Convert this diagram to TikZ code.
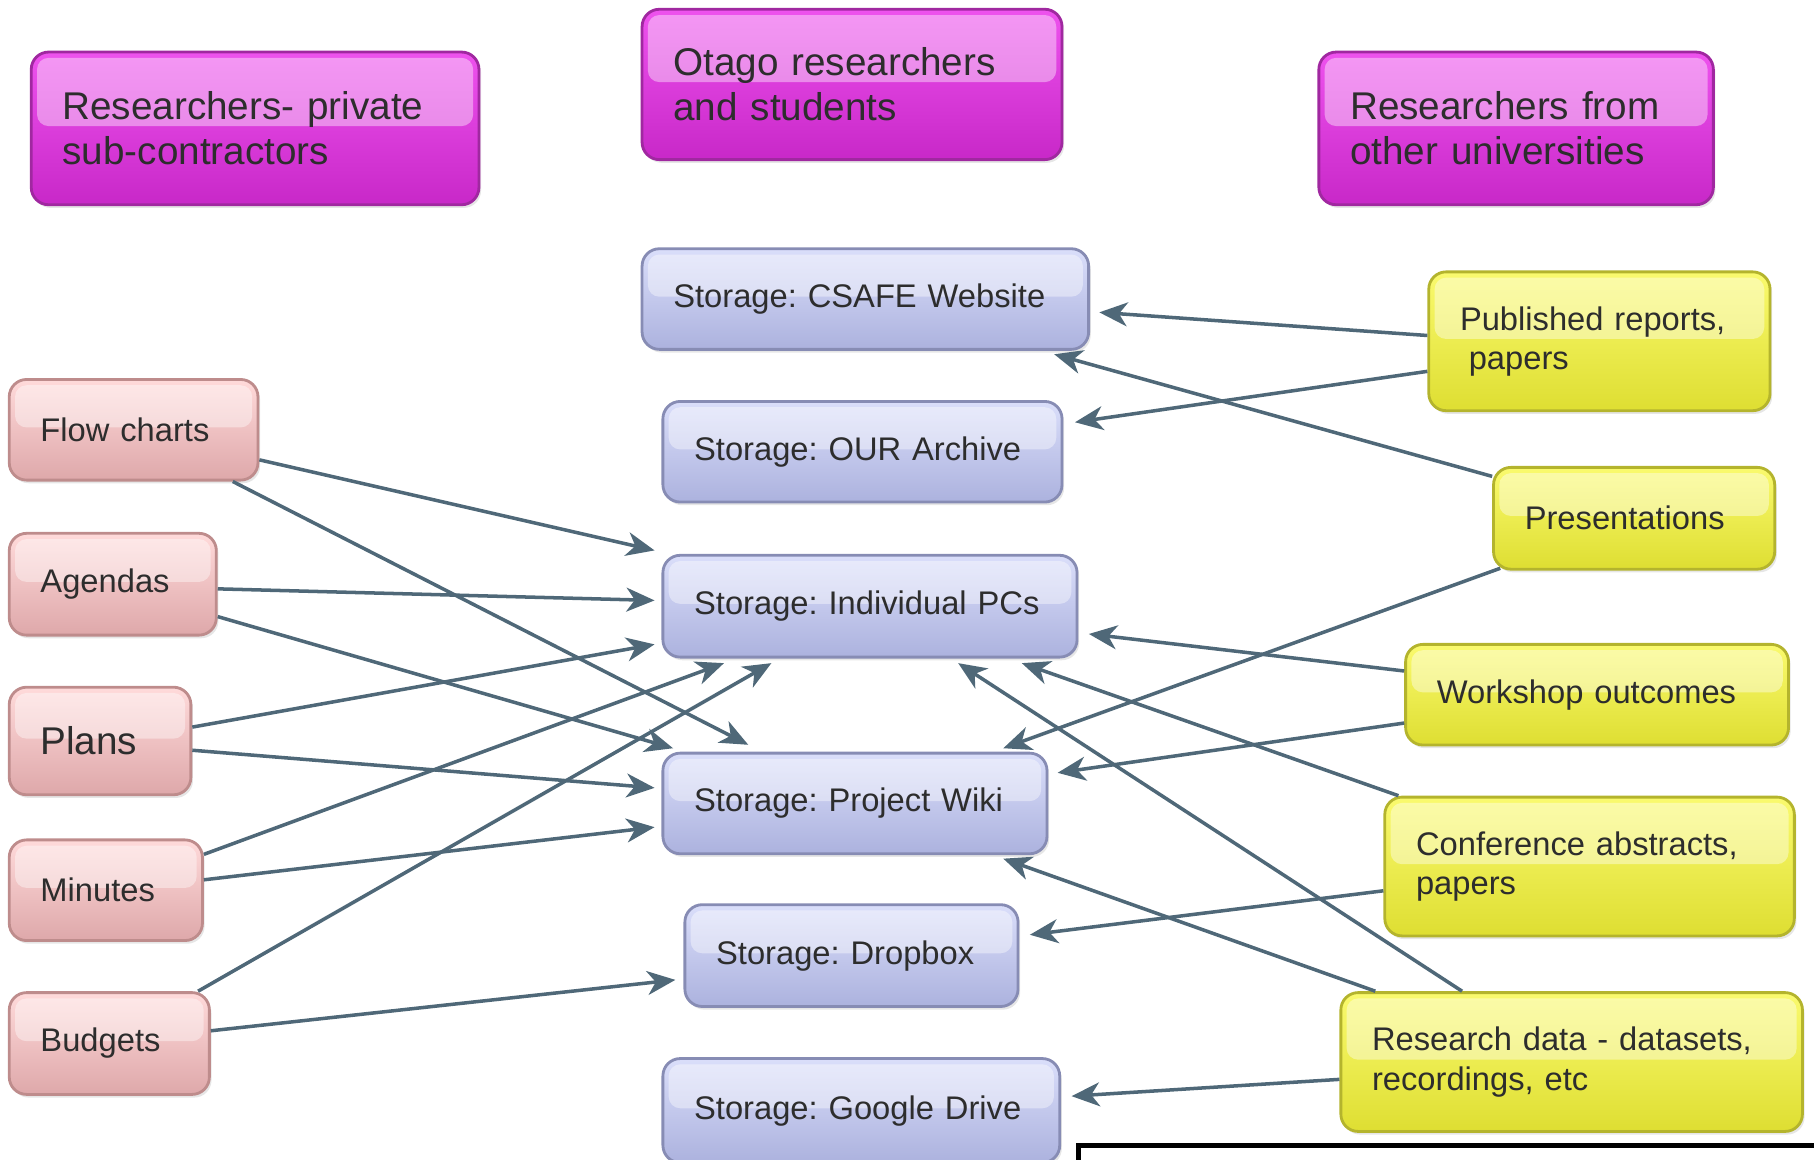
\documentclass[tikz,border=0pt]{standalone}
\usepackage{fontspec}
\setmainfont{Liberation Sans}
\usetikzlibrary{arrows.meta,calc,shadows}
\frenchspacing
\newlength{\unitpx}
\setlength{\unitpx}{0.011569cm}
\definecolor{linkc}{RGB}{79,104,120}
\definecolor{txtc}{RGB}{45,45,45}
\definecolor{magtop}{RGB}{238,82,238}
\definecolor{magbot}{RGB}{200,40,200}
\definecolor{magedge}{RGB}{160,40,160}
\definecolor{blutop}{RGB}{218,222,250}
\definecolor{blubot}{RGB}{172,178,222}
\definecolor{bluedge}{RGB}{135,140,180}
\definecolor{pnktop}{RGB}{255,218,218}
\definecolor{pnkbot}{RGB}{222,168,170}
\definecolor{pnkedge}{RGB}{190,140,140}
\definecolor{yeltop}{RGB}{250,250,110}
\definecolor{yelbot}{RGB}{222,222,50}
\definecolor{yeledge}{RGB}{180,180,45}

\begin{document}
\begin{tikzpicture}[x=1\unitpx, y=-1\unitpx,
    glossy/.style={rounded corners=15\unitpx, line width=0.8pt, inner xsep=27\unitpx, inner ysep=0pt,
        align=left, text=txtc, font=\fontsize{9.3}{11.2}\selectfont,
        drop shadow={opacity=0.2, shadow xshift=0.6pt, shadow yshift=-0.9pt},
        path picture={\fill[white, opacity=0.4, rounded corners=10\unitpx]
            ([shift={(5\unitpx,-5\unitpx)}]path picture bounding box.north west) rectangle
            ([shift={(-5\unitpx,2\unitpx)}]path picture bounding box.east);}},
    sz/.style 2 args={text width=#1\unitpx, minimum height=#2\unitpx},
    groupbox/.style={glossy, draw=magedge, top color=magtop, bottom color=magbot,
        font=\fontsize{11}{12.7}\selectfont},
    storebox/.style={glossy, draw=bluedge, top color=blutop, bottom color=blubot},
    docbox/.style={glossy, draw=pnkedge, top color=pnktop, bottom color=pnkbot},
    outbox/.style={glossy, draw=yeledge, top color=yeltop, bottom color=yelbot},
    link/.style={draw=linkc, line width=1pt, -{Stealth[length=8pt, width=6.8pt, inset=2.4pt]}}]

    \useasboundingbox (0,0) rectangle (1568,1002);

    % 三类研究人员
    \node[groupbox, sz={333}{132}] (priv) at (220.5,111) {Researchers- private\\sub-contractors};
    \node[groupbox, sz={309}{130}] (otago) at (736.5,73) {Otago researchers\\and students};
    \node[groupbox, sz={287}{132}] (other) at (1310.5,111) {Researchers from\\other universities};

    % 存储位置
    \node[storebox, sz={332}{87}] (csafe) at (748,258.5) {Storage: CSAFE Website};
    \node[storebox, sz={291}{87}] (our) at (745.5,390.5) {Storage: OUR Archive};
    \node[storebox, sz={304}{88}] (pcs) at (752,524) {Storage: Individual PCs};
    \node[storebox, sz={278}{87}] (wiki) at (739,694.5) {Storage: Project Wiki};
    \node[storebox, sz={234}{88}] (dropbox) at (736,826) {Storage: Dropbox};
    \node[storebox, sz={289}{90}] (google) at (744.5,960) {Storage: Google Drive};

    % 左边: 项目文件
    \node[docbox, sz={161}{87}] (flow) at (115.5,371.5) {Flow charts};
    \node[docbox, sz={125}{88}] (agendas) at (97.5,505) {Agendas};
    \node[docbox, sz={103}{93}, font=\fontsize{11}{13}\selectfont] (plans) at (86.5,640.5) {Plans};
    \node[docbox, sz={113}{87}] (minutes) at (91.5,769.5) {Minutes};
    \node[docbox, sz={119}{88}] (budgets) at (94.5,902) {Budgets};

    % 右边: 研究成果
    \node[outbox, sz={241}{120}] (pub) at (1382.5,295) {Published reports,\\\hspace*{2.5pt}papers};
    \node[outbox, sz={189}{88}] (pres) at (1412.5,448) {Presentations};
    \node[outbox, sz={277}{87}] (work) at (1380.5,600.5) {Workshop outcomes};
    \node[outbox, sz={300}{120}] (conf) at (1374,749) {Conference abstracts,\\papers};
    \node[outbox, sz={345}{120}] (data) at (1358.5,918) {Research data - datasets,\\recordings, etc};

    % 左边的箭头
    \draw[link] ($(flow.east)+(0,26)$) -- ($(pcs.north west)+(-6,-3)$);
    \draw[link] ($(flow.south east)+(-23,0)$) -- ($(wiki.north west)+(75,-6)$);
    \draw[link] ($(agendas.east)+(0,4)$) -- ($(pcs.west)+(-6,-5)$);
    \draw[link] ($(agendas.east)+(0,28)$) -- ($(wiki.north west)+(10,-3)$);
    \draw[link] ($(plans.east)+(0,-12)$) -- ($(pcs.west)+(-6,33)$);
    \draw[link] ($(plans.east)+(0,8)$) -- ($(wiki.west)+(-6,-13.5)$);
    \draw[link] ($(minutes.east)+(0,-31)$) -- ($(pcs.south west)+(54,4)$);
    \draw[link] ($(minutes.east)+(0,-9)$) -- ($(wiki.west)+(-6,20.5)$);
    \draw[link] ($(budgets.north east)+(-11,0)$) -- ($(pcs.south west)+(95,4)$);
    \draw[link] ($(budgets.east)+(0,-11)$) -- ($(dropbox.west)+(-7,21)$);

    % 右边的箭头
    \draw[link] ($(pub.west)+(0,-5)$) -- ($(csafe.east)+(8,11.5)$);
    \draw[link] ($(pub.west)+(0,26)$) -- ($(our.east)+(10,-25.5)$);
    \draw[link] ($(pres.north west)+(0,9)$) -- ($(csafe.south east)+(-31,3)$);
    \draw[link] ($(pres.south west)+(7,-2)$) -- ($(wiki.north east)+(-39,-3)$);
    \draw[link] ($(work.west)+(0,-20.5)$) -- ($(pcs.east)+(9,24)$);
    \draw[link] ($(work.west)+(0,24.5)$) -- ($(wiki.east)+(8,-26.5)$);
    \draw[link] ($(conf.north west)+(13,0)$) -- ($(pcs.south east)+(-49,4)$);
    \draw[link] ($(conf.west)+(0,21)$) -- ($(dropbox.east)+(9,-18)$);
    \draw[link] ($(data.north west)+(31,0)$) -- ($(wiki.south east)+(-39,3)$);
    \draw[link] ($(data.north west)+(106,0)$) -- ($(pcs.south east)+(-104,4)$);
    \draw[link] ($(data.west)+(0,15)$) -- ($(google.east)+(9,-12.5)$);

    % 右下角的黑框
    \draw[line width=1.3pt] (932,1008) -- (932,990) -- (1575,990);
\end{tikzpicture}
\end{document}
